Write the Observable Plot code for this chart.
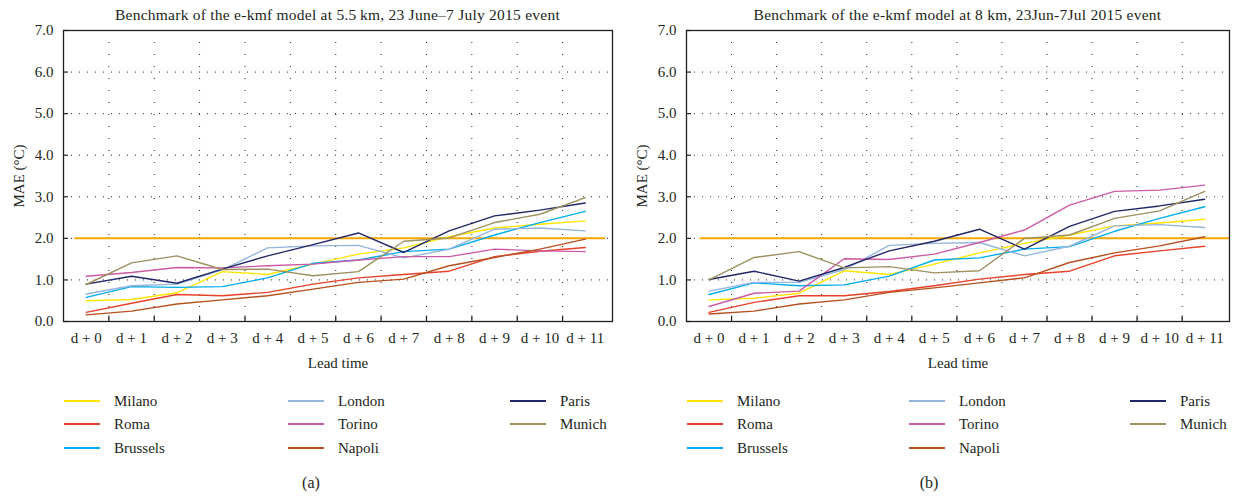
<!DOCTYPE html>
<html>
<head>
<meta charset="utf-8">
<script src="https://cdn.jsdelivr.net/npm/d3@7"></script>
<script src="https://cdn.jsdelivr.net/npm/@observablehq/plot@0.6"></script>
<style>
  html, body { margin: 0; padding: 0; background: #fff; }
  #root { position: relative; width: 1239px; height: 498px; overflow: hidden; color: #231f20; font-family: "Liberation Serif", serif; }
  .panel { position: absolute; top: 0; }
  .title { position: absolute; top: 6px; font-size: 15.5px; letter-spacing: 0.25px; white-space: nowrap; transform: translateX(-50%); }
  .svgwrap { position: absolute; left: 0; top: 0; }
  .leg { position: absolute; font-size: 15px; white-space: nowrap; height: 18px; line-height: 18px; }
  .leg .sw { position: absolute; left: 0; top: 8px; width: 36px; height: 2px; }
  .leg .lb { position: absolute; left: 50px; top: 0; }
  .cap { position: absolute; top: 474px; font-size: 16px; transform: translateX(-50%); }
</style>
</head>
<body>
<div id="root"></div>
<script>
// ---------- data ----------
const leadTimes = ["d + 0","d + 1","d + 2","d + 3","d + 4","d + 5","d + 6","d + 7","d + 8","d + 9","d + 10","d + 11"];
const cities = ["Milano","Roma","Brussels","London","Torino","Napoli","Paris","Munich"];
const cityColors = ["#ffe400","#e8402a","#00aeef","#95b5dd","#cc5aa6","#b7501f","#202667","#9d9060"];
const threshold = 2.0;
const yTicks = [0,1,2,3,4,5,6,7];

// (a) 5.5 km
const milanoA   = [0.50,0.53,0.69,1.20,1.13,1.38,1.62,1.77,2.04,2.25,2.34,2.42];
const romaA     = [0.22,0.44,0.65,0.62,0.70,0.90,1.05,1.13,1.21,1.56,1.69,1.78];
const brusselsA = [0.58,0.84,0.82,0.84,1.05,1.40,1.48,1.68,1.74,2.08,2.38,2.65];
const londonA   = [0.66,0.86,0.90,1.24,1.77,1.82,1.83,1.53,1.74,2.22,2.25,2.18];
const torinoA   = [1.09,1.18,1.30,1.29,1.34,1.38,1.48,1.56,1.56,1.74,1.70,1.68];
const napoliA   = [0.16,0.25,0.42,0.52,0.62,0.78,0.94,1.02,1.34,1.54,1.74,1.98];
const parisA    = [0.90,1.09,0.92,1.26,1.58,1.85,2.13,1.66,2.18,2.54,2.68,2.85];
const munichA   = [0.89,1.41,1.58,1.25,1.26,1.10,1.20,1.93,2.01,2.38,2.58,2.98];

// (b) 8 km
const milanoB   = [0.52,0.56,0.68,1.22,1.13,1.38,1.65,1.88,2.08,2.30,2.37,2.46];
const romaB     = [0.22,0.46,0.62,0.62,0.72,0.86,1.02,1.13,1.21,1.58,1.70,1.81];
const brusselsB = [0.65,0.93,0.86,0.88,1.09,1.48,1.53,1.74,1.80,2.17,2.48,2.76];
const londonB   = [0.73,0.94,0.94,1.25,1.83,1.88,1.90,1.58,1.81,2.30,2.33,2.26];
const torinoB   = [0.36,0.68,0.73,1.51,1.49,1.62,1.90,2.20,2.80,3.13,3.16,3.28];
const napoliB   = [0.18,0.25,0.42,0.52,0.70,0.81,0.93,1.05,1.42,1.65,1.82,2.04];
const parisB    = [1.01,1.21,0.97,1.30,1.70,1.93,2.22,1.74,2.29,2.65,2.78,2.94];
const munichB   = [1.00,1.54,1.68,1.29,1.32,1.17,1.22,2.00,2.08,2.48,2.66,3.13];

const seriesA = [milanoA, romaA, brusselsA, londonA, torinoA, napoliA, parisA, munichA];
const seriesB = [milanoB, romaB, brusselsB, londonB, torinoB, napoliB, parisB, munichB];

const fontStack = "'Liberation Serif', serif";

// ---------- drawing ----------
const root = document.getElementById("root");

function makePanel(cfg) {
  const panel = document.createElement("div");
  panel.className = "panel";
  panel.style.left = cfg.left + "px";
  panel.style.width = cfg.width + "px";
  panel.style.height = "498px";
  root.appendChild(panel);

  const rows = cities.flatMap((c, i) => cfg.series[i].map((v, j) => ({city: c, lead: j, mae: v})));
  const bounds = d3.range(0.5, 11, 1);
  const ink = "#231f20";

  const chart = Plot.plot({
    width: cfg.width,
    height: 375,
    marginLeft: cfg.ml,
    marginRight: cfg.mr,
    marginTop: 30,
    marginBottom: 54,
    style: {fontFamily: fontStack, fontSize: "15px", color: ink, background: "transparent", overflow: "visible"},
    x: {domain: [-0.5, cfg.xmax], label: null},
    y: {domain: [0, 7], label: null},
    color: {domain: cities, range: cityColors},
    marks: [
      Plot.ruleY([1,2,3,4,5,6], {y: d => d, stroke: ink, strokeDasharray: "1,7", strokeWidth: 1}),
      Plot.ruleX(bounds, {x: d => d, stroke: ink, strokeDasharray: "1,11", strokeWidth: 1}),
      Plot.ruleX(bounds, {x: d => d, y1: () => 0, y2: () => 0.13, stroke: ink, strokeWidth: 1.2}),
      Plot.ruleY(yTicks, {y: d => d, x1: () => -0.5, x2: () => -0.39, stroke: ink, strokeWidth: 1.2}),
      Plot.ruleY([threshold], {y: d => d, x1: () => cfg.thr[0], x2: () => cfg.thr[1], stroke: "#f6a800", strokeWidth: 2}),
      Plot.line(rows, {x: "lead", y: "mae", stroke: "city", z: "city", strokeWidth: 1.4}),
      Plot.axisX({ticks: d3.range(12), tickFormat: i => leadTimes[i], tickSize: 0, tickPadding: 11, label: "Lead time", labelAnchor: "center", labelOffset: 46, labelArrow: "none", fontSize: 15}),
      Plot.axisY({ticks: yTicks, tickFormat: d3.format(".1f"), tickSize: 0, tickPadding: 10, label: "MAE (°C)", labelAnchor: "center", labelOffset: 50, labelArrow: "none", fontSize: 15}),
      Plot.frame({stroke: ink, strokeWidth: 1.3})
    ]
  });
  const wrap = document.createElement("div");
  wrap.className = "svgwrap";
  wrap.appendChild(chart);
  panel.appendChild(wrap);

  const title = document.createElement("div");
  title.className = "title";
  title.style.left = ((cfg.ml + cfg.width - cfg.mr) / 2) + "px";
  title.textContent = cfg.title;
  panel.appendChild(title);

  const colX = cfg.legCols;
  const rowY = [392, 415, 439];
  cities.forEach((c, i) => {
    const col = Math.floor(i / 3), row = i % 3;
    const item = document.createElement("div");
    item.className = "leg";
    item.style.left = colX[col] + "px";
    item.style.top = rowY[row] + "px";
    const sw = document.createElement("div");
    sw.className = "sw";
    sw.style.background = cityColors[i];
    const lb = document.createElement("div");
    lb.className = "lb";
    lb.textContent = c;
    item.appendChild(sw);
    item.appendChild(lb);
    panel.appendChild(item);
  });

  const cap = document.createElement("div");
  cap.className = "cap";
  cap.style.left = cfg.capX + "px";
  cap.textContent = cfg.caption;
  panel.appendChild(cap);
}

makePanel({
  left: 0, width: 620, ml: 63, mr: 8, xmax: 11.6,
  series: seriesA,
  thr: [-0.25, 11.45],
  title: "Benchmark of the e-kmf model at 5.5\u2009km, 23 June\u20137 July 2015 event",
  legCols: [64, 288, 510],
  capX: 311, caption: "(a)"
});
makePanel({
  left: 621, width: 618, ml: 65, mr: 10, xmax: 11.55,
  series: seriesB,
  thr: [-0.2, 11.55],
  title: "Benchmark of the e-kmf model at 8 km, 23Jun-7Jul 2015 event",
  legCols: [66, 288, 509],
  capX: 308, caption: "(b)"
});
</script>
</body>
</html>
